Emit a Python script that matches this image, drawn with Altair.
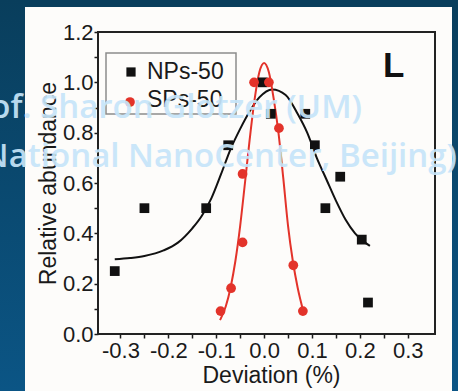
import altair as alt
import pandas as pd

# ---------------- data ----------------
series_names = ["NPs-50", "SPs-50"]
panel_label = "L"
watermark_lines = ["Prof. Sharon Glotzer (UM)", "(National NanoCenter, Beijing)"]

nps_dev = [-0.312, -0.25, -0.121, -0.075, -0.003, 0.014, 0.086, 0.106, 0.128, 0.159, 0.204, 0.217]
nps_abund = [0.25, 0.5, 0.5, 0.75, 1.0, 0.875, 0.875, 0.75, 0.5, 0.625, 0.375, 0.125]

sps_dev = [-0.091, -0.069, -0.045, -0.045, -0.021, 0.010, 0.031, 0.061, 0.081]
sps_abund = [0.091, 0.182, 0.364, 0.636, 1.0, 1.0, 0.818, 0.273, 0.091]

nps_fit_dev = [-0.312, -0.28, -0.25, -0.21, -0.18, -0.15, -0.13, -0.11, -0.09, -0.07,
               -0.05, -0.03, -0.01, 0.017, 0.045, 0.07, 0.09, 0.11, 0.13, 0.15,
               0.17, 0.19, 0.205, 0.221]
nps_fit_abund = [0.297, 0.302, 0.31, 0.332, 0.363, 0.42, 0.47, 0.54, 0.635, 0.735,
                 0.815, 0.885, 0.94, 0.972, 0.95, 0.875, 0.80, 0.70, 0.615, 0.53,
                 0.455, 0.40, 0.372, 0.35]

sps_fit_dev = [-0.092, -0.08, -0.07, -0.06, -0.05, -0.04, -0.03, -0.02, -0.01, 0.0,
               0.01, 0.02, 0.03, 0.04, 0.05, 0.06, 0.07, 0.082]
sps_fit_abund = [0.055, 0.11, 0.185, 0.29, 0.43, 0.60, 0.775, 0.93, 1.04, 1.077,
                 1.04, 0.935, 0.80, 0.62, 0.43, 0.29, 0.185, 0.09]

x_tick_values = [-0.3, -0.25, -0.2, -0.15, -0.1, -0.05, 0.0, 0.05, 0.1, 0.15, 0.2, 0.25, 0.3]
y_tick_values = [0.0, 0.1, 0.2, 0.3, 0.4, 0.5, 0.6, 0.7, 0.8, 0.9, 1.0, 1.1, 1.2]

# ---------------- tables ----------------
points = pd.DataFrame({
    "dev": nps_dev + sps_dev,
    "abund": nps_abund + sps_abund,
    "series": [series_names[0]] * len(nps_dev) + [series_names[1]] * len(sps_dev),
})
fits = pd.DataFrame({
    "dev": nps_fit_dev + sps_fit_dev,
    "abund": nps_fit_abund + sps_fit_abund,
    "series": [series_names[0]] * len(nps_fit_dev) + [series_names[1]] * len(sps_fit_dev),
})

# ---------------- layout ----------------
W, H = 337, 302
PAD = {"left": 98, "top": 32, "right": 23, "bottom": 57}
FONT = "Liberation Sans"
INK = "#1a1a1a"
RED = "#e3332a"

x_axis = alt.Axis(
    values=x_tick_values,
    labelExpr="abs(round(datum.value*20)) % 2 == 0 ? (datum.value < -0.001 ? '-' + format(-datum.value, '.1f') : format(abs(datum.value), '.1f')) : ''",
    domain=False, grid=False, tickSize=4, tickWidth=1.5, tickColor=INK,
    labelFont=FONT, labelFontSize=22, labelColor=INK, labelPadding=2,
    labelFlush=False, labelOverlap=False, labelBound=False,
    title="Deviation (%)", titleFont=FONT, titleFontSize=23, titleFontWeight="normal",
    titleColor=INK, titleX=173, titleY=48, titleBaseline="alphabetic", titleAlign="center",
)
y_axis = alt.Axis(
    values=y_tick_values,
    labelExpr="round(datum.value*10) % 2 == 0 ? format(datum.value, '.1f') : ''",
    domain=False, grid=False, tickSize=4, tickWidth=1.5, tickColor=INK,
    labelFont=FONT, labelFontSize=22, labelColor=INK, labelPadding=1,
    labelFlush=False, labelOverlap=False, labelBound=False,
    title="Relative abundance", titleFont=FONT, titleFontSize=23, titleFontWeight="normal",
    titleColor=INK, titleAngle=270, titleX=-43, titleY=151, titleBaseline="alphabetic",
    titleAlign="center",
)

def xe():
    return alt.X("dev:Q", scale=alt.Scale(domain=[-0.347, 0.357], nice=False, zero=False), axis=x_axis)

def ye():
    return alt.Y("abund:Q", scale=alt.Scale(domain=[0, 1.2], nice=False, zero=False), axis=y_axis)

one = alt.Data(values=[{}])

grad = alt.LinearGradient(
    gradient="linear",
    stops=[alt.GradientStop(color="#093e5c", offset=0), alt.GradientStop(color="#0b5585", offset=1)],
    x1=0, x2=0, y1=0, y2=1,
)
blue_left = alt.Chart(one).mark_rect(color=grad).encode(
    x=alt.value(-PAD["left"]), x2=alt.value(-73), y=alt.value(-PAD["top"]), y2=alt.value(H + PAD["bottom"]))
blue_right = alt.Chart(one).mark_rect(color=grad).encode(
    x=alt.value(354), x2=alt.value(W + PAD["right"]), y=alt.value(-PAD["top"]), y2=alt.value(H + PAD["bottom"]))
blue_top = alt.Chart(one).mark_rect(color="#093e5c").encode(
    x=alt.value(-74), x2=alt.value(355), y=alt.value(-PAD["top"]), y2=alt.value(-25))

nps_line = alt.Chart(fits).transform_filter(alt.datum.series == series_names[0]).mark_line(
    color="#111", strokeWidth=2, interpolate="monotone").encode(x=xe(), y=ye(), order="dev:Q")
sps_line = alt.Chart(fits).transform_filter(alt.datum.series == series_names[1]).mark_line(
    color=RED, strokeWidth=2, interpolate="monotone").encode(x=xe(), y=ye(), order="dev:Q")

nps_pts = alt.Chart(points).transform_filter(alt.datum.series == series_names[0]).mark_square(
    color="#111", size=95, opacity=1).encode(x=xe(), y=ye())
sps_pts = alt.Chart(points).transform_filter(alt.datum.series == series_names[1]).mark_circle(
    color=RED, size=95, opacity=1).encode(x=xe(), y=ye())

frame = alt.Chart(one).mark_rect(filled=False, stroke="#222", strokeWidth=2).encode(
    x=alt.value(0), x2=alt.value(W), y=alt.value(0), y2=alt.value(H))

letter = alt.Chart(one).mark_text(
    text=panel_label, font=FONT, fontSize=35, fontWeight="bold", align="left",
    baseline="alphabetic", color="#111").encode(x=alt.value(285), y=alt.value(45))

leg_box = alt.Chart(one).mark_rect(filled=False, stroke="#8c8c8c", strokeWidth=1.5).encode(
    x=alt.value(8), x2=alt.value(138), y=alt.value(21), y2=alt.value(82))
leg_sq = alt.Chart(one).mark_square(color="#111", size=85, opacity=1).encode(
    x=alt.value(33), y=alt.value(40))
leg_ci = alt.Chart(one).mark_circle(color=RED, size=95, opacity=1).encode(
    x=alt.value(32), y=alt.value(70))
leg_t1 = alt.Chart(one).mark_text(
    text=series_names[0], font=FONT, fontSize=23, align="left", baseline="alphabetic", color=INK
).encode(x=alt.value(49), y=alt.value(47))
leg_t2 = alt.Chart(one).mark_text(
    text=series_names[1], font=FONT, fontSize=23, align="left", baseline="alphabetic", color=INK
).encode(x=alt.value(49), y=alt.value(75))

wm1 = alt.Chart(one).mark_text(
    text=watermark_lines[0], font="Open Sans", fontSize=33, fontWeight=600, align="right",
    baseline="alphabetic", color="#c6e5f9", opacity=0.92).encode(x=alt.value(264), y=alt.value(86))
wm2 = alt.Chart(one).mark_text(
    text=watermark_lines[1], font="Open Sans", fontSize=33, fontWeight=600, align="right",
    baseline="alphabetic", color="#c6e5f9", opacity=0.92).encode(x=alt.value(359), y=alt.value(135))

chart = alt.layer(
    blue_left, blue_right, blue_top,
    nps_line, sps_line, nps_pts, sps_pts,
    frame, letter, leg_box, leg_sq, leg_ci, leg_t1, leg_t2,
    wm1, wm2,
).properties(
    width=W, height=H, padding=PAD,
    autosize=alt.AutoSizeParams(type="none"),
    background="#fdfcfa",
).configure_view(strokeWidth=0)

chart.save("out.html", embed_options={"renderer": "svg", "actions": False})
